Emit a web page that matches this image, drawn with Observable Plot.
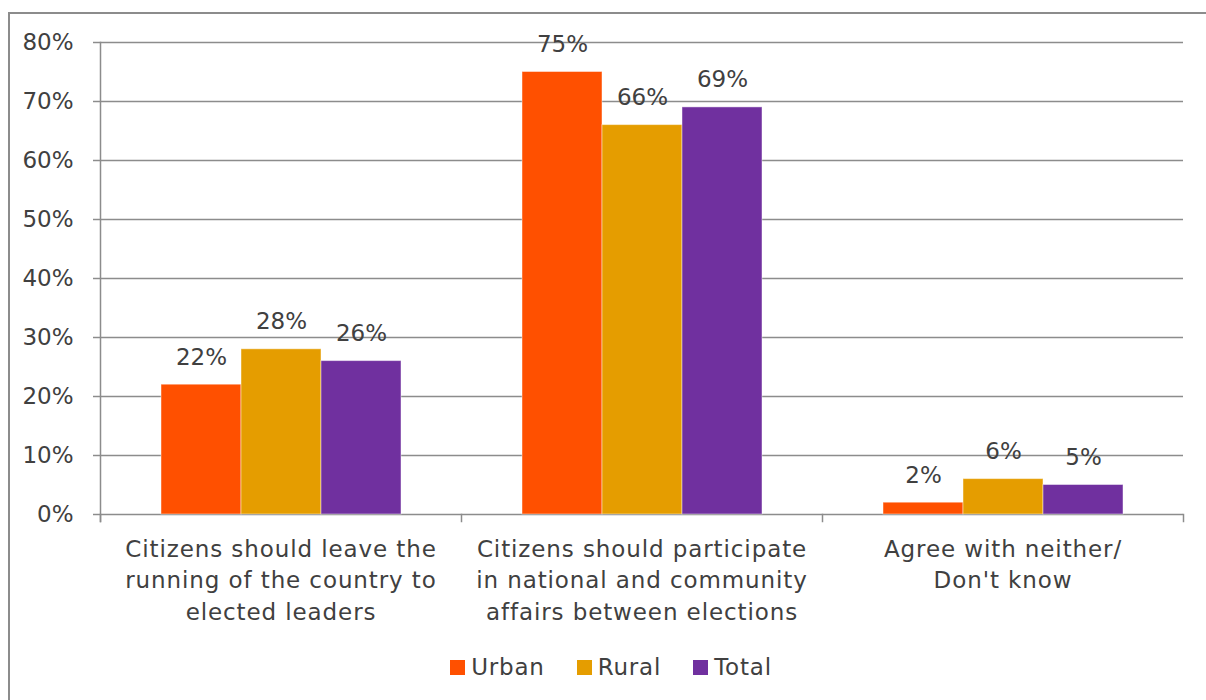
<!DOCTYPE html>
<html><head><meta charset="utf-8">
<script src="https://cdn.jsdelivr.net/npm/d3@7"></script>
<script src="https://cdn.jsdelivr.net/npm/@observablehq/plot@0.6"></script>
<style>
body{margin:0;background:#fff;overflow:hidden;font-family:"DejaVu Sans",sans-serif;width:1206px;height:700px;position:relative;}
#frame{position:absolute;left:8px;top:12px;width:1400px;height:900px;border-left:2px solid #8c8c8c;border-top:2px solid #8c8c8c;}
#chart{position:absolute;left:0;top:0;}
#chart g[aria-label="fx-axis tick label"] text{letter-spacing:0.9px;}
#legend{position:absolute;top:654px;left:0;width:1222px;display:flex;justify-content:center;align-items:center;color:#404040;font-size:23px;letter-spacing:0.8px;}
.item{display:flex;align-items:center;margin:0 16px;}
.sw{width:15px;height:15px;margin-right:6px;}
</style></head>
<body>
<div id="frame"></div>
<div id="chart"></div>
<div id="legend"></div>
<script>
const groups = [
  "Citizens should leave the\nrunning of the country to\nelected leaders",
  "Citizens should participate\nin national and community\naffairs between elections",
  "Agree with neither/\nDon't know"
];
const series = ["Urban", "Rural", "Total"];
const colors = ["#FF5000", "#E59D00", "#70309F"];
const urban = [22, 75, 2];
const rural = [28, 66, 6];
const total = [26, 69, 5];
const yTicks = [0, 10, 20, 30, 40, 50, 60, 70, 80];

const valuesBySeries = {Urban: urban, Rural: rural, Total: total};
const data = [];
groups.forEach((g, i) => series.forEach(s => data.push({group: g, series: s, value: valuesBySeries[s][i]})));

const W = 1206, H = 640, mT = 42, mB = 126, mL = 100, mR = 23;
const plotH = H - mT - mB;
const gridColor = "#8c8c8c";

const chart = Plot.plot({
  width: W, height: H,
  marginTop: mT, marginBottom: mB, marginLeft: mL, marginRight: mR,
  style: {fontSize: "23px", fontFamily: "'DejaVu Sans', sans-serif", color: "#404040", background: "transparent"},
  fx: {domain: groups, padding: 0, label: null},
  x: {domain: series, paddingInner: 0, paddingOuter: 0.75, axis: null},
  y: {domain: [0, 80], label: null, axis: null},
  color: {domain: series, range: colors},
  marks: [
    Plot.ruleY(yTicks, {stroke: gridColor, strokeWidth: 1.5}),
    Plot.frame({anchor: "left", facetAnchor: "left", stroke: gridColor, strokeWidth: 1.5, insetBottom: -7}),
    Plot.frame({anchor: "left", stroke: gridColor, strokeWidth: 1.5, insetTop: plotH, insetBottom: -7}),
    Plot.frame({anchor: "right", facetAnchor: "right", stroke: gridColor, strokeWidth: 1.5, insetTop: plotH, insetBottom: -7}),
    Plot.axisY(yTicks, {anchor: "left", tickSize: 7, tickPadding: 20, stroke: gridColor, strokeWidth: 1.5, fill: "#404040", tickFormat: d => d + "%", fontSize: 23}),
    Plot.axisFx({anchor: "bottom", tickSize: 0, tickPadding: 20, lineHeight: 1.37, fontSize: 23, fill: "#404040", label: null}),
    Plot.barY(data, {fx: "group", x: "series", y: "value", fill: "series", stroke: "#ffffff", strokeOpacity: 0.45, strokeWidth: 1}),
    Plot.text(data, {fx: "group", x: "series", y: "value", text: d => d.value + "%", lineAnchor: "bottom", dy: -20, fill: "#404040", fontSize: 23})
  ]
});
document.getElementById("chart").appendChild(chart);

const legend = document.getElementById("legend");
series.forEach((s, i) => {
  const item = document.createElement("div");
  item.className = "item";
  const sw = document.createElement("div");
  sw.className = "sw";
  sw.style.background = colors[i];
  const t = document.createElement("span");
  t.textContent = s;
  item.appendChild(sw); item.appendChild(t);
  legend.appendChild(item);
});
</script>
</body></html>
